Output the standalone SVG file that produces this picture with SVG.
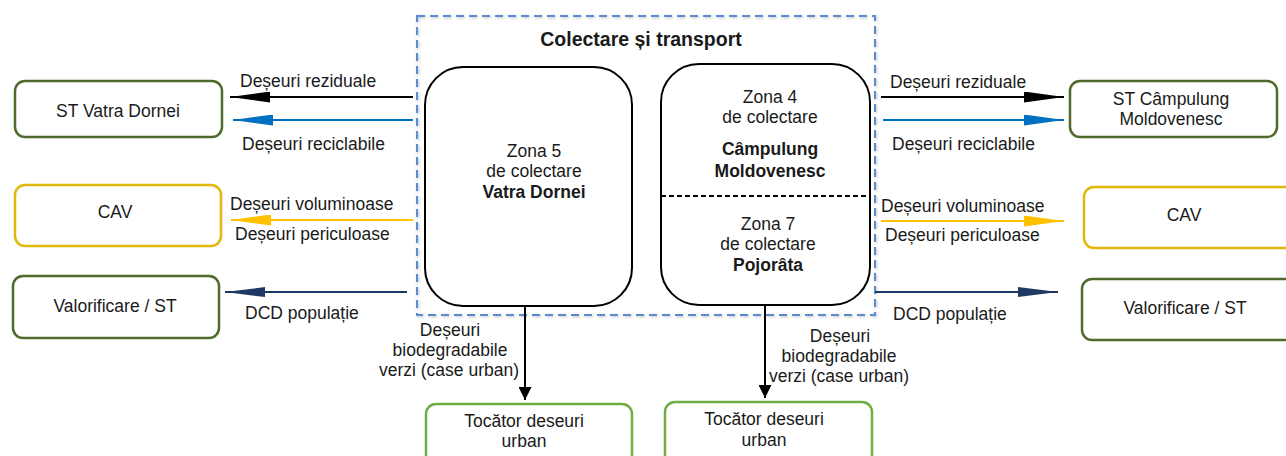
<svg xmlns="http://www.w3.org/2000/svg" width="1286" height="456" viewBox="0 0 1286 456">
<defs>
<style>
text{font-family:"Liberation Sans",Arial,sans-serif;font-size:17.5px;fill:#1a1a1a}
.b{font-weight:bold}
.c{text-anchor:middle}
.nd{fill:#fff;stroke-width:2.5}
.dg{stroke:#4f6b2c}
.yl{stroke:#e2b80c}
.lg{stroke:#70ad47}
.zone{fill:#fff;stroke:#000;stroke-width:2}
.ln{fill:none;stroke-width:2}
</style>
<marker id="mk" viewBox="0 0 40 11" markerUnits="userSpaceOnUse" markerWidth="40" markerHeight="11" refX="40" refY="5.5" orient="auto"><path d="M0,0 L40,5.5 L0,11 z" fill="#000"/></marker>
<marker id="mb" viewBox="0 0 40 11" markerUnits="userSpaceOnUse" markerWidth="40" markerHeight="11" refX="40" refY="5.5" orient="auto"><path d="M0,0 L40,5.5 L0,11 z" fill="#0070c0"/></marker>
<marker id="my" viewBox="0 0 40 11" markerUnits="userSpaceOnUse" markerWidth="40" markerHeight="11" refX="40" refY="5.5" orient="auto"><path d="M0,0 L40,5.5 L0,11 z" fill="#ffc000"/></marker>
<marker id="mn" viewBox="0 0 40 10" markerUnits="userSpaceOnUse" markerWidth="40" markerHeight="10" refX="40" refY="5" orient="auto"><path d="M0,0 L40,5 L0,10 z" fill="#203864"/></marker>
<marker id="md" viewBox="0 0 13 13" markerUnits="userSpaceOnUse" markerWidth="13" markerHeight="13" refX="13" refY="6.5" orient="auto"><path d="M0,0 L13,6.5 L0,13 z" fill="#000"/></marker>
<filter id="sh" x="-5%" y="-5%" width="110%" height="110%"><feGaussianBlur stdDeviation="1.5"/></filter>
</defs>
<rect width="1286" height="456" fill="#fff"/>

<g id="container">
<rect x="418" y="17" width="458" height="299" fill="none" stroke="#bbb" stroke-width="2" stroke-dasharray="8 5" filter="url(#sh)"/>
<rect x="417" y="16" width="458" height="299" fill="none" stroke="#5b8bd0" stroke-width="2" stroke-dasharray="8 5"/>
<text class="b c" x="641" y="46" style="font-size:19.5px">Colectare și transport</text>
</g>

<g id="zone5">
<rect class="zone" x="425" y="67" width="207" height="239" rx="38"/>
<text class="c" x="534" y="157">Zona 5</text>
<text class="c" x="534" y="177">de colectare</text>
<text class="b c" x="534" y="198">Vatra Dornei</text>
</g>

<g id="zone4-7">
<rect class="zone" x="661" y="64" width="209" height="241" rx="38"/>
<line x1="661" y1="196" x2="870" y2="196" stroke="#000" stroke-width="2" stroke-dasharray="5 3"/>
<text class="c" x="770" y="103">Zona 4</text>
<text class="c" x="770" y="123">de colectare</text>
<text class="b c" x="770" y="155">Câmpulung</text>
<text class="b c" x="770" y="177">Moldovenesc</text>
<text class="c" x="768" y="230">Zona 7</text>
<text class="c" x="768" y="250">de colectare</text>
<text class="b c" x="768" y="271">Pojorâta</text>
</g>

<g id="st-vatra"><rect class="nd dg" x="15" y="81" width="207" height="56" rx="10"/><text class="c" x="118" y="117">ST Vatra Dornei</text></g>
<g id="cav-left"><rect class="nd yl" x="15" y="185" width="206" height="61" rx="10"/><text class="c" x="115" y="218">CAV</text></g>
<g id="val-left"><rect class="nd dg" x="13" y="276" width="206" height="62" rx="10"/><text class="c" x="115" y="312">Valorificare / ST</text></g>

<g id="st-campulung"><rect class="nd dg" x="1070" y="81" width="207" height="56" rx="10"/><text class="c" x="1171" y="105">ST Câmpulung</text><text class="c" x="1171" y="125">Moldovenesc</text></g>
<g id="cav-right"><rect class="nd yl" x="1084" y="187" width="212" height="61" rx="10"/><text class="c" x="1184" y="221">CAV</text></g>
<g id="val-right"><rect class="nd dg" x="1082" y="279" width="214" height="61" rx="10"/><text class="c" x="1185" y="314">Valorificare / ST</text></g>

<g id="tocator-left"><rect class="nd lg" x="426" y="404" width="206" height="70" rx="10"/><text class="c" x="524" y="427">Tocător deseuri</text><text class="c" x="524" y="447">urban</text></g>
<g id="tocator-right"><rect class="nd lg" x="665" y="402" width="207" height="72" rx="10"/><text class="c" x="764" y="425">Tocător deseuri</text><text class="c" x="764" y="446">urban</text></g>

<g id="connectors">
<line class="ln" x1="413" y1="97" x2="230" y2="97" stroke="#000" marker-end="url(#mk)"/>
<line class="ln" x1="413" y1="120" x2="233" y2="120" stroke="#0070c0" marker-end="url(#mb)"/>
<line class="ln" x1="413" y1="220" x2="231" y2="220" stroke="#ffc000" marker-end="url(#my)"/>
<line class="ln" x1="407" y1="292" x2="225" y2="292" stroke="#203864" marker-end="url(#mn)"/>
<line class="ln" x1="881" y1="97" x2="1064" y2="97" stroke="#000" marker-end="url(#mk)"/>
<line class="ln" x1="883" y1="120" x2="1064" y2="120" stroke="#0070c0" marker-end="url(#mb)"/>
<line class="ln" x1="881" y1="221" x2="1064" y2="221" stroke="#ffc000" marker-end="url(#my)"/>
<line class="ln" x1="875" y1="292" x2="1058" y2="292" stroke="#203864" marker-end="url(#mn)"/>
<line class="ln" x1="525" y1="306" x2="525" y2="400" stroke="#000" stroke-width="3" marker-end="url(#md)"/>
<line class="ln" x1="765" y1="305" x2="765" y2="398" stroke="#000" stroke-width="3" marker-end="url(#md)"/>
<text x="240" y="87">Deșeuri reziduale</text>
<text x="242" y="150">Deșeuri reciclabile</text>
<text x="230" y="210">Deșeuri voluminoase</text>
<text x="235" y="240">Deșeuri periculoase</text>
<text x="245" y="319">DCD populație</text>
<text x="890" y="88">Deșeuri reziduale</text>
<text x="892" y="150">Deșeuri reciclabile</text>
<text x="881" y="212">Deșeuri voluminoase</text>
<text x="885" y="241">Deșeuri periculoase</text>
<text x="893" y="320">DCD populație</text>
<text class="c" x="450" y="336">Deșeuri</text>
<text class="c" x="450" y="356">biodegradabile</text>
<text class="c" x="449" y="376">verzi (case urban)</text>
<text class="c" x="840" y="342">Deșeuri</text>
<text class="c" x="839" y="362">biodegradabile</text>
<text class="c" x="839" y="382">verzi (case urban)</text>
</g>
</svg>
